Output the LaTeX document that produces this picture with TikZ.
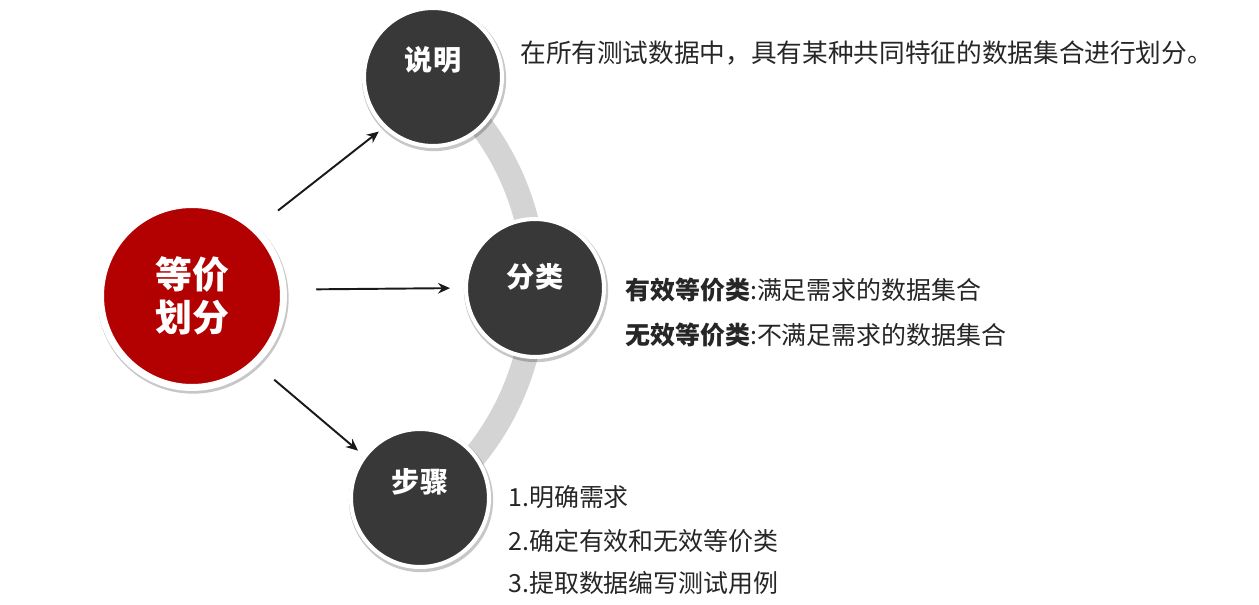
\documentclass[tikz,border=0pt]{standalone}
\usepackage{fontspec}
\setmainfont{Noto Sans CJK SC}
\usetikzlibrary{arrows.meta,shadows}
\definecolor{redfill}{HTML}{B30000}
\definecolor{darkfill}{HTML}{383838}
\definecolor{arcgray}{HTML}{D4D4D4}
\definecolor{txt}{HTML}{262626}
\begin{document}
\begin{tikzpicture}[x=0.02cm,y=-0.02cm,
  shad/.style={drop shadow={shadow scale=1.045,shadow xshift=0.02cm,shadow yshift=-0.04cm,opacity=0.22,fill=black}},
  bigc/.style={circle,minimum size=3.66cm,fill=redfill,draw=white,line width=3.97pt,
    inner sep=0pt,outer sep=0pt,shad,text=white,align=center,
    font=\bfseries\fontsize{21}{24.4}\selectfont},
  cir/.style={circle,minimum size=2.76cm,fill=darkfill,draw=white,line width=2.3pt,
    inner sep=0pt,outer sep=0pt,shad},
  clabel/.style={text=white,inner sep=0pt,font=\bfseries\fontsize{16}{18}\selectfont},
  txtn/.style={anchor=west,inner sep=0pt,text=txt,font=\fontsize{14.2}{16}\selectfont},
  conn/.style={-{Stealth[length=6.8pt,width=6pt]},line width=1.1pt,black!90}
]
\useasboundingbox[fill=white] (0,0) rectangle (1259,605);
% gray arc
\coordinate (arcstart) at (433,76);
\draw[line width=13.6pt,arcgray] (arcstart) arc[start angle=51.6,end angle=-53.9,radius=5.38cm];
% circles
\node[bigc] (eq) at (192,296) {等价\\划分};
\node[cir] (sm) at (433,77) {};
\node[cir] (fl) at (535,288) {};
\node[cir] (bz) at (420,498) {};
\node[clabel] (smt) at (433,60) {说明};
\node[clabel] (flt) at (535,277) {分类};
\node[clabel] (bzt) at (420,482) {步骤};
% arrows
\draw[conn,shorten <=0.6cm,shorten >=0.16cm] (eq.47.6) -- (sm.226);
\draw[conn,shorten <=0.66cm,shorten >=0.32cm] (eq.4.2) -- (fl.180.8);
\draw[conn,shorten <=0.52cm,shorten >=0.18cm] (eq.-47.4) -- (bz.143.9);
% texts
\node[txtn,font=\fontsize{14.6}{16}\selectfont] (desc) at (520,53) {在所有测试数据中，具有某种共同特征的数据集合进行划分。};
\node[txtn] (v1) at (625,290) {\textbf{有效等价类}:满足需求的数据集合};
\node[txtn] (v2) at (625,335) {\textbf{无效等价类}:不满足需求的数据集合};
\node[txtn] (s1) at (508,497) {1.明确需求};
\node[txtn] (s2) at (508,541) {2.确定有效和无效等价类};
\node[txtn] (s3) at (508,583) {3.提取数据编写测试用例};
\end{tikzpicture}
\end{document}
